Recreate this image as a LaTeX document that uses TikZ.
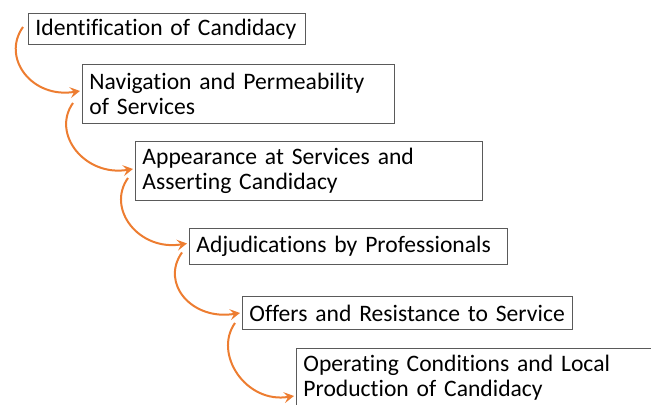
\documentclass[tikz,border=0pt]{standalone}
\usepackage{fontspec}
\setmainfont{Carlito}[Ligatures=NoCommon]
\usetikzlibrary{arrows.meta}
\definecolor{orng}{HTML}{ED7D31}
\definecolor{bordr}{HTML}{5A5A5A}
\begin{document}
\begin{tikzpicture}[x=1bp,y=1bp,
  stepbox/.style={draw=bordr, line width=0.9bp, anchor=north west, inner xsep=7bp, inner ysep=0pt,
    align=left, font=\fontsize{23.6bp}{25bp}\selectfont},
  bendarrow/.style={draw=orng, line width=2bp, -{Stealth[length=10bp,width=11bp,inset=4bp]}}]
\useasboundingbox (0,0) rectangle (651,-404);
\clip (0,0) rectangle (651,-404);
\node[stepbox, text width=263bp, minimum height=31bp] (b1) at (28,-13) {\mbox{Identification of Candidacy}};
\node[stepbox, text width=298bp, minimum height=59bp] (b2) at (82,-64) {\mbox{Navigation and Permeability}\\\mbox{of Services}};
\node[stepbox, text width=333bp, minimum height=59bp] (b3) at (135,-141) {\mbox{Appearance at Services and}\\\mbox{Asserting Candidacy}};
\node[stepbox, text width=304bp, minimum height=36bp] (b4) at (189,-228) {\mbox{Adjudications by Professionals}};
\node[stepbox, text width=316bp, minimum height=33bp] (b5) at (242,-296) {\mbox{Offers and Resistance to Service}};
\node[stepbox, text width=390bp, minimum height=59bp] (b6) at (296,-348) {\mbox{Operating Conditions and Local}\\\mbox{Production of Candidacy}};
\path[bendarrow] ([xshift=-5bp,yshift=2bp]b1.west) .. controls +(-22,-31) and +(-48,-8) .. ([xshift=-2bp,yshift=3bp]b2.west);
\path[bendarrow] ([xshift=-9bp,yshift=-9bp]b2.west) .. controls +(-22,-31) and +(-48,-8) .. ([xshift=-2bp,yshift=2bp]b3.west);
\path[bendarrow] ([xshift=-7bp,yshift=-7bp]b3.west) .. controls +(-22,-31) and +(-48,-8) .. ([xshift=-2bp,yshift=3bp]b4.west);
\path[bendarrow] ([xshift=-7bp,yshift=-6bp]b4.west) .. controls +(-22,-31) and +(-48,-8) .. ([xshift=-2bp,yshift=0bp]b5.west);
\path[bendarrow] ([xshift=-7bp,yshift=-10bp]b5.west) .. controls +(-22,-31) and +(-48,-8) .. ([xshift=-2bp,yshift=-18bp]b6.west);
\end{tikzpicture}
\end{document}
